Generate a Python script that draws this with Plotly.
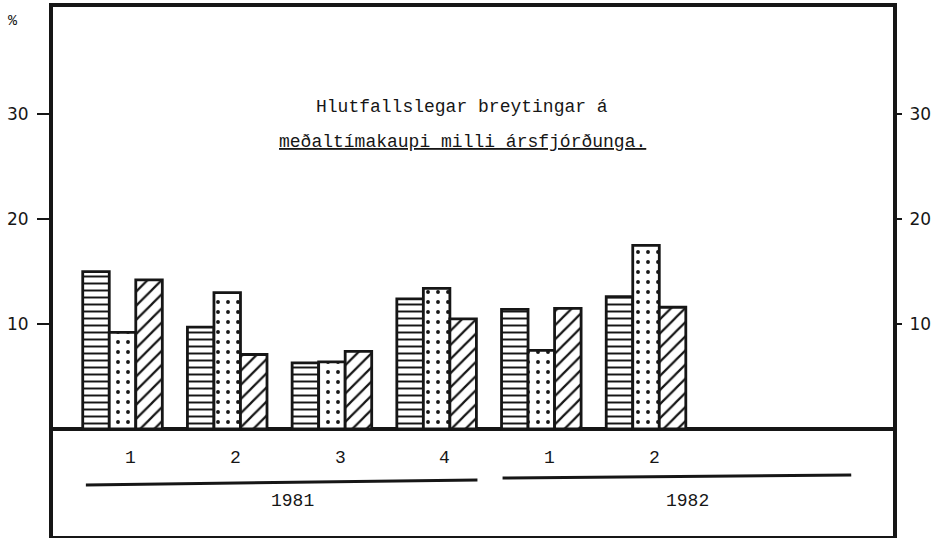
import plotly.graph_objects as go

# ---- data ----
quarters = ["1", "2", "3", "4", "1", "2"]
years = ["1981", "1982"]
year_groups = [[0, 1, 2, 3], [4, 5]]
series_a = [15.0, 9.7, 6.3, 12.4, 11.4, 12.6]   # horizontal lines
series_b = [9.2, 13.0, 6.4, 13.4, 7.5, 17.5]    # dots
series_c = [14.2, 7.1, 7.4, 10.5, 11.5, 11.6]   # diagonal hatch
y_ticks = [10, 20, 30]

title_1 = "Hlutfallslegar breytingar á"
title_2 = "meðaltímakaupi milli ársfjórðunga."

x = list(range(len(quarters)))
INK = "#161616"
MONO = "Liberation Mono, Courier New, monospace"
SANS = "DejaVu Sans, Arial, sans-serif"

fig = go.Figure()
for vals, shape, size, sol in [(series_a, "-", 7, 0.28), (series_b, ".", 10, 0.12),
                               (series_c, "/", 10, 0.22)]:
    fig.add_trace(go.Bar(
        x=x, y=vals,
        marker=dict(
            color="white",
            line=dict(color=INK, width=2.8),
            pattern=dict(shape=shape, fgcolor=INK, bgcolor="white",
                         size=size, solidity=sol, fillmode="replace"),
        ),
        showlegend=False,
        hoverinfo="y",
    ))

# empty helper trace so that the right-hand axis is drawn
fig.add_trace(go.Scatter(x=[], y=[], yaxis="y2", showlegend=False,
                         hoverinfo="skip"))

yr = [-10.19, 40.2]
fig.update_layout(
    width=942, height=538,
    margin=dict(l=53, r=49, t=7, b=2),
    paper_bgcolor="white", plot_bgcolor="white",
    barmode="group", bargap=0.24, bargroupgap=0,
    xaxis=dict(range=[-0.664, 7.359], showline=True, mirror=True,
               linewidth=4, linecolor=INK, showticklabels=False,
               ticks="", showgrid=False, zeroline=False),
    yaxis=dict(range=yr, tickvals=y_ticks, ticks="outside", ticklen=12,
               tickwidth=2, tickcolor=INK, ticklabelstandoff=5,
               showline=True, mirror=True, linewidth=4, linecolor=INK,
               showgrid=False, zeroline=True, zerolinecolor=INK,
               zerolinewidth=4,
               tickfont=dict(family=SANS, size=17, color=INK)),
    yaxis2=dict(range=yr, tickvals=y_ticks, overlaying="y", side="right",
                ticks="outside", ticklen=8, tickwidth=2, tickcolor=INK,
                showline=False, showgrid=False, zeroline=False,
                ticklabelstandoff=4,
                tickfont=dict(family=SANS, size=17, color=INK)),
)

# title
fig.add_annotation(xref="paper", yref="paper", x=0.487, y=0.8337,
                   text=title_1, showarrow=False,
                   font=dict(family=MONO, size=18, color=INK))
fig.add_annotation(xref="paper", yref="paper", x=0.487, y=0.7675,
                   text="<u>" + title_2 + "</u>", showarrow=False,
                   font=dict(family=MONO, size=18, color=INK))

# percent sign
fig.add_annotation(xref="paper", yref="paper", x=-0.048, y=0.973,
                   xanchor="center", yanchor="middle", text="%",
                   showarrow=False, font=dict(family=MONO, size=15, color=INK))

# quarter labels under the baseline
for i, q in enumerate(quarters):
    fig.add_annotation(x=i + 0.08, y=-2.8, text=q, showarrow=False,
                       font=dict(family=MONO, size=18, color=INK))

# year lines and labels
line_pad = [(0.35, 0.39, -5.33, -4.86), (0.37, 1.96, -4.67, -4.38)]
for (yl, grp), (pl, pr, y0, y1) in zip(zip(years, year_groups), line_pad):
    x0 = grp[0] - pl
    x1 = grp[-1] + pr
    fig.add_shape(type="line", x0=x0, x1=x1, y0=y0, y1=y1,
                  line=dict(color=INK, width=3))
    fig.add_annotation(x=(x0 + x1) / 2 + 0.1, y=-6.9, text=yl,
                       showarrow=False,
                       font=dict(family=MONO, size=18, color=INK))

fig.write_html("out.html",
               config={"displayModeBar": False},
               post_script="document.body.style.margin='0';"
                           "document.body.style.overflow='hidden';")
